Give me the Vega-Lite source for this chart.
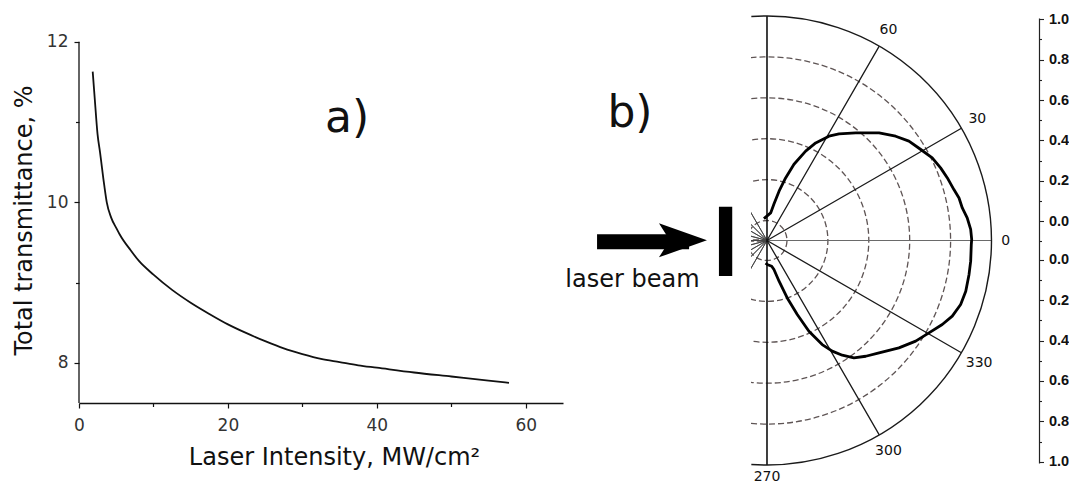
{
  "$schema": "https://vega.github.io/schema/vega-lite/v6.json",
  "background": "white",
  "padding": {"left": 12, "top": 11, "right": 0, "bottom": 0},
  "bounds": "flush",
  "spacing": 188,
  "config": {
    "view": {"stroke": null},
    "axis": {"grid": false, "labelFont": "DejaVu Sans", "titleFont": "DejaVu Sans"},
    "text": {"font": "DejaVu Sans"}
  },
  "hconcat": [
    {
      "width": 484,
      "height": 385,
      "layer": [
        {
          "data": {"values": [
            {"intensity": 1.84, "transmittance": 11.63},
            {"intensity": 2.14, "transmittance": 11.26},
            {"intensity": 2.49, "transmittance": 10.85},
            {"intensity": 2.83, "transmittance": 10.62},
            {"intensity": 3.38, "transmittance": 10.22},
            {"intensity": 3.73, "transmittance": 10.0},
            {"intensity": 4.32, "transmittance": 9.81},
            {"intensity": 5.07, "transmittance": 9.67},
            {"intensity": 5.47, "transmittance": 9.6},
            {"intensity": 6.96, "transmittance": 9.4},
            {"intensity": 8.05, "transmittance": 9.27},
            {"intensity": 10.0, "transmittance": 9.1},
            {"intensity": 12.5, "transmittance": 8.91},
            {"intensity": 15, "transmittance": 8.75},
            {"intensity": 17.5, "transmittance": 8.61},
            {"intensity": 20, "transmittance": 8.48},
            {"intensity": 22.5, "transmittance": 8.37},
            {"intensity": 25, "transmittance": 8.27},
            {"intensity": 27.5, "transmittance": 8.18},
            {"intensity": 30, "transmittance": 8.11},
            {"intensity": 32.5, "transmittance": 8.05},
            {"intensity": 35, "transmittance": 8.01},
            {"intensity": 37.5, "transmittance": 7.97},
            {"intensity": 40, "transmittance": 7.94},
            {"intensity": 45, "transmittance": 7.88},
            {"intensity": 50, "transmittance": 7.83},
            {"intensity": 55, "transmittance": 7.78},
            {"intensity": 57.75, "transmittance": 7.75}
          ]},
          "mark": {"type": "line", "color": "#111", "strokeWidth": 1.8, "interpolate": "monotone"},
          "encoding": {
            "x": {"field": "intensity", "type": "quantitative",
              "scale": {"domain": [0, 65], "nice": false, "zero": false},
              "axis": {"orient": "bottom", "values": [0, 20, 40, 60], "title": "Laser Intensity, MW/cm²",
                "tickSize": 5, "tickColor": "#111", "tickWidth": 1.2, "domainColor": "#111", "domainWidth": 1.3,
                "labelFontSize": 17, "labelColor": "#333", "labelPadding": 9, "labelFlush": false, "labelOverlap": false,
                "titleFontSize": 24, "titleFontWeight": "normal", "titleColor": "#111", "titlePadding": 12, "titleX": 255}},
            "y": {"field": "transmittance", "type": "quantitative",
              "scale": {"domain": [7.5, 12.2975], "nice": false, "zero": false},
              "axis": {"orient": "left", "values": [8, 10, 12], "title": "Total transmittance, %", "domain": false,
                "tickSize": 5, "tickColor": "#111", "tickWidth": 1.2,
                "labelFontSize": 17, "labelColor": "#333", "labelPadding": 6, "labelOverlap": false, "labelFlush": false,
                "titleFontSize": 24, "titleFontWeight": "normal", "titleColor": "#111", "titlePadding": 10, "titleY": 202}}
          }
        },
        {
          "data": {"values": [{}]},
          "mark": {"type": "rule", "color": "#111", "strokeWidth": 1.3},
          "encoding": {
            "x": {"datum": 0, "type": "quantitative",
              "scale": {"domain": [0, 65], "nice": false, "zero": false},
              "axis": {"orient": "bottom", "values": [10, 30, 50], "labels": false, "domain": false, "title": null,
                "tickSize": 3.5, "tickColor": "#111", "tickWidth": 1.2}},
            "y": {"datum": 7.5, "type": "quantitative",
              "scale": {"domain": [7.5, 12.2975], "nice": false, "zero": false},
              "axis": {"orient": "left", "values": [9, 11], "labels": false, "domain": false, "title": null,
                "tickSize": 3.5, "tickColor": "#111", "tickWidth": 1.2}},
            "y2": {"datum": 12}
          }
        },
        {
          "data": {"values": [{}]},
          "mark": {"type": "text", "text": "a)", "fontSize": 44, "color": "#111", "align": "center", "baseline": "middle"},
          "encoding": {
            "x": {"datum": 36, "type": "quantitative", "scale": {"domain": [0, 65], "nice": false, "zero": false}, "axis": null},
            "y": {"datum": 11.04, "type": "quantitative", "scale": {"domain": [7.5, 12.2975], "nice": false, "zero": false}, "axis": null}
          }
        }
      ],
      "resolve": {"axis": {"x": "independent", "y": "independent"}}
    },
    {
      "width": 288,
      "height": 445,
      "layer": [
        {
          "data": {"values": [
            {"r": 0, "a1": 179.5, "a2": -179.5},
            {"r": 0.2, "a1": 179.5, "a2": -179.5},
            {"r": 0.4, "a1": 179.5, "a2": -179.5},
            {"r": 0.6, "a1": 179.5, "a2": -179.5},
            {"r": 0.8, "a1": 179.5, "a2": -179.5}
          ]},
          "mark": {"type": "arc", "filled": false, "stroke": "#5e5454", "strokeWidth": 1.3, "strokeDash": [6, 3], "clip": true},
          "encoding": {
            "x": {"datum": 0, "type": "quantitative", "scale": {"domain": [-0.0782, 1.3301], "nice": false, "zero": false}, "axis": null},
            "y": {"datum": 0, "type": "quantitative", "scale": {"domain": [-1.088, 1.088], "nice": false, "zero": false}, "axis": null},
            "theta": {"field": "a1", "type": "quantitative", "scale": {"domain": [90, -270], "nice": false, "zero": false}, "stack": null},
            "theta2": {"field": "a2"},
            "radius": {"field": "r", "type": "quantitative", "scale": {"domain": [-0.0978, 1], "range": [0, 224.5], "nice": false, "zero": false}},
            "radius2": {"value": 0}
          }
        },
        {
          "data": {"values": [
            {"a": 120, "r": 1}, {"a": 135, "r": 1}, {"a": 150, "r": 1}, {"a": 165, "r": 1}, {"a": 180, "r": 1},
            {"a": 195, "r": 1}, {"a": 210, "r": 1}, {"a": 225, "r": 1}, {"a": 240, "r": 1}
          ]},
          "mark": {"type": "arc", "filled": false, "stroke": "#444", "strokeWidth": 0.9, "clip": true},
          "encoding": {
            "x": {"datum": 0, "type": "quantitative", "scale": {"domain": [-0.0782, 1.3301], "nice": false, "zero": false}, "axis": null},
            "y": {"datum": 0, "type": "quantitative", "scale": {"domain": [-1.088, 1.088], "nice": false, "zero": false}, "axis": null},
            "theta": {"field": "a", "type": "quantitative", "scale": {"domain": [90, -270], "nice": false, "zero": false}, "stack": null},
            "theta2": {"field": "a"},
            "radius": {"field": "r", "type": "quantitative", "scale": {"domain": [-0.0978, 1], "range": [0, 224.5], "nice": false, "zero": false}},
            "radius2": {"value": 0}
          }
        },
        {
          "data": {"values": [{"a": 0, "r": 1}]},
          "mark": {"type": "arc", "filled": false, "stroke": "#6a6a6a", "strokeWidth": 1.2},
          "encoding": {
            "x": {"datum": 0, "type": "quantitative", "scale": {"domain": [-0.0782, 1.3301], "nice": false, "zero": false}, "axis": null},
            "y": {"datum": 0, "type": "quantitative", "scale": {"domain": [-1.088, 1.088], "nice": false, "zero": false}, "axis": null},
            "theta": {"field": "a", "type": "quantitative", "scale": {"domain": [90, -270], "nice": false, "zero": false}, "stack": null},
            "theta2": {"field": "a"},
            "radius": {"field": "r", "type": "quantitative", "scale": {"domain": [-0.0978, 1], "range": [0, 224.5], "nice": false, "zero": false}},
            "radius2": {"value": 0}
          }
        },
        {
          "data": {"values": [{"a": 30, "r": 1}, {"a": 60, "r": 1}, {"a": 330, "r": 1}, {"a": 300, "r": 1}]},
          "mark": {"type": "arc", "filled": false, "stroke": "#1a1a1a", "strokeWidth": 1.3},
          "encoding": {
            "x": {"datum": 0, "type": "quantitative", "scale": {"domain": [-0.0782, 1.3301], "nice": false, "zero": false}, "axis": null},
            "y": {"datum": 0, "type": "quantitative", "scale": {"domain": [-1.088, 1.088], "nice": false, "zero": false}, "axis": null},
            "theta": {"field": "a", "type": "quantitative", "scale": {"domain": [90, -270], "nice": false, "zero": false}, "stack": null},
            "theta2": {"field": "a"},
            "radius": {"field": "r", "type": "quantitative", "scale": {"domain": [-0.0978, 1], "range": [0, 224.5], "nice": false, "zero": false}},
            "radius2": {"value": 0}
          }
        },
        {
          "data": {"values": [{"a": 90, "r": 1}, {"a": 270, "r": 1}]},
          "mark": {"type": "arc", "filled": false, "stroke": "#111", "strokeWidth": 1.6},
          "encoding": {
            "x": {"datum": 0, "type": "quantitative", "scale": {"domain": [-0.0782, 1.3301], "nice": false, "zero": false}, "axis": null},
            "y": {"datum": 0, "type": "quantitative", "scale": {"domain": [-1.088, 1.088], "nice": false, "zero": false}, "axis": null},
            "theta": {"field": "a", "type": "quantitative", "scale": {"domain": [90, -270], "nice": false, "zero": false}, "stack": null},
            "theta2": {"field": "a"},
            "radius": {"field": "r", "type": "quantitative", "scale": {"domain": [-0.0978, 1], "range": [0, 224.5], "nice": false, "zero": false}},
            "radius2": {"value": 0}
          }
        },
        {
          "data": {"values": [{"r": 1, "a1": 94, "a2": -94}]},
          "mark": {"type": "arc", "filled": false, "stroke": "#1a1a1a", "strokeWidth": 1.4},
          "encoding": {
            "x": {"datum": 0, "type": "quantitative", "scale": {"domain": [-0.0782, 1.3301], "nice": false, "zero": false}, "axis": null},
            "y": {"datum": 0, "type": "quantitative", "scale": {"domain": [-1.088, 1.088], "nice": false, "zero": false}, "axis": null},
            "theta": {"field": "a1", "type": "quantitative", "scale": {"domain": [90, -270], "nice": false, "zero": false}, "stack": null},
            "theta2": {"field": "a2"},
            "radius": {"field": "r", "type": "quantitative", "scale": {"domain": [-0.0978, 1], "range": [0, 224.5], "nice": false, "zero": false}},
            "radius2": {"field": "r"}
          }
        },
        {
          "data": {"values": [
            {"i": 1, "x": -0.015, "y": 0.107}, {"i": 2, "x": 0.018, "y": 0.135}, {"i": 3, "x": 0.034, "y": 0.178},
            {"i": 4, "x": 0.059, "y": 0.241}, {"i": 5, "x": 0.091, "y": 0.306}, {"i": 6, "x": 0.132, "y": 0.373},
            {"i": 7, "x": 0.189, "y": 0.437}, {"i": 8, "x": 0.238, "y": 0.477}, {"i": 9, "x": 0.303, "y": 0.51},
            {"i": 10, "x": 0.352, "y": 0.521}, {"i": 11, "x": 0.434, "y": 0.526}, {"i": 12, "x": 0.548, "y": 0.526},
            {"i": 13, "x": 0.629, "y": 0.51}, {"i": 14, "x": 0.694, "y": 0.486}, {"i": 15, "x": 0.752, "y": 0.445},
            {"i": 16, "x": 0.808, "y": 0.404}, {"i": 17, "x": 0.849, "y": 0.355}, {"i": 18, "x": 0.882, "y": 0.306},
            {"i": 19, "x": 0.914, "y": 0.249}, {"i": 20, "x": 0.939, "y": 0.208}, {"i": 21, "x": 0.955, "y": 0.159},
            {"i": 22, "x": 0.979, "y": 0.111}, {"i": 23, "x": 0.996, "y": 0.054}, {"i": 24, "x": 1.001, "y": 0.005},
            {"i": 25, "x": 0.999, "y": -0.02}, {"i": 26, "x": 0.996, "y": -0.101}, {"i": 27, "x": 0.988, "y": -0.166},
            {"i": 28, "x": 0.972, "y": -0.248}, {"i": 29, "x": 0.947, "y": -0.313}, {"i": 30, "x": 0.906, "y": -0.37},
            {"i": 31, "x": 0.857, "y": -0.411}, {"i": 32, "x": 0.792, "y": -0.452}, {"i": 33, "x": 0.727, "y": -0.492},
            {"i": 34, "x": 0.645, "y": -0.525}, {"i": 35, "x": 0.548, "y": -0.55}, {"i": 36, "x": 0.483, "y": -0.566},
            {"i": 37, "x": 0.425, "y": -0.574}, {"i": 38, "x": 0.368, "y": -0.561}, {"i": 39, "x": 0.319, "y": -0.541},
            {"i": 40, "x": 0.27, "y": -0.509}, {"i": 41, "x": 0.205, "y": -0.444}, {"i": 42, "x": 0.148, "y": -0.362},
            {"i": 43, "x": 0.099, "y": -0.281}, {"i": 44, "x": 0.059, "y": -0.199}, {"i": 45, "x": 0.034, "y": -0.142},
            {"i": 46, "x": 0.023, "y": -0.126}, {"i": 47, "x": 0.001, "y": -0.117}, {"i": 48, "x": -0.007, "y": -0.111}
          ]},
          "mark": {"type": "line", "color": "#000", "strokeWidth": 2.8, "strokeJoin": "round"},
          "encoding": {
            "x": {"field": "x", "type": "quantitative", "scale": {"domain": [-0.0782, 1.3301], "nice": false, "zero": false}, "axis": null},
            "y": {"field": "y", "type": "quantitative", "scale": {"domain": [-1.088, 1.088], "nice": false, "zero": false},
              "axis": {"orient": "right", "title": null,
                "values": [1.083, 0.885, 0.687, 0.489, 0.291, 0.093, -0.093, -0.291, -0.489, -0.687, -0.885, -1.083],
                "labelExpr": "format((abs(datum.value) - 0.093) / 0.99, '.1f')",
                "tickSize": 4.5, "tickColor": "#222", "tickWidth": 1.1, "domainColor": "#222", "domainWidth": 1.2,
                "labelFont": "Liberation Sans", "labelFontSize": 14.5, "labelFontWeight": "bold", "labelColor": "#111", "labelPadding": 5,
                "labelOverlap": false, "labelFlush": false, "labelBound": false}},
            "order": {"field": "i", "type": "quantitative"}
          }
        },
        {
          "data": {"values": [
            {"a": 60, "r": 1.09, "t": "60"}, {"a": 30, "r": 1.09, "t": "30"}, {"a": 0, "r": 1.07, "t": "0"},
            {"a": 330, "r": 1.1, "t": "330"}, {"a": 300, "r": 1.09, "t": "300"}, {"a": 270, "r": 1.06, "t": "270"}
          ]},
          "mark": {"type": "text", "fontSize": 14, "color": "#111", "align": "center", "baseline": "middle"},
          "encoding": {
            "x": {"datum": 0, "type": "quantitative", "scale": {"domain": [-0.0782, 1.3301], "nice": false, "zero": false}, "axis": null},
            "y": {"datum": 0, "type": "quantitative", "scale": {"domain": [-1.088, 1.088], "nice": false, "zero": false},
              "axis": {"orient": "right", "title": null, "labels": false, "domain": false,
                "values": [0.984, 0.786, 0.588, 0.39, 0.192, 0, -0.192, -0.39, -0.588, -0.786, -0.984],
                "tickSize": 2.5, "tickColor": "#222", "tickWidth": 1.1}},
            "theta": {"field": "a", "type": "quantitative", "scale": {"domain": [90, -270], "nice": false, "zero": false}, "stack": null},
            "radius": {"field": "r", "type": "quantitative", "scale": {"domain": [-0.0978, 1], "range": [0, 224.5], "nice": false, "zero": false}},
            "text": {"field": "t", "type": "nominal"}
          }
        },
        {
          "data": {"values": [{}]},
          "mark": {"type": "text", "text": "b)", "fontSize": 44, "color": "#111", "align": "center", "baseline": "middle"},
          "encoding": {
            "x": {"datum": -0.67, "type": "quantitative", "scale": {"domain": [-0.0782, 1.3301], "nice": false, "zero": false}, "axis": null},
            "y": {"datum": 0.619, "type": "quantitative", "scale": {"domain": [-1.088, 1.088], "nice": false, "zero": false}, "axis": null}
          }
        },
        {
          "data": {"values": [{}]},
          "mark": {"type": "text", "text": "laser beam", "fontSize": 24, "color": "#111", "align": "center", "baseline": "alphabetic"},
          "encoding": {
            "x": {"datum": -0.658, "type": "quantitative", "scale": {"domain": [-0.0782, 1.3301], "nice": false, "zero": false}, "axis": null},
            "y": {"datum": -0.226, "type": "quantitative", "scale": {"domain": [-1.088, 1.088], "nice": false, "zero": false}, "axis": null}
          }
        },
        {
          "data": {"values": [{}]},
          "mark": {"type": "rule", "color": "#000", "strokeWidth": 15, "strokeCap": "butt"},
          "encoding": {
            "x": {"datum": -0.831, "type": "quantitative", "scale": {"domain": [-0.0782, 1.3301], "nice": false, "zero": false}, "axis": null},
            "x2": {"datum": -0.381},
            "y": {"datum": -0.006, "type": "quantitative", "scale": {"domain": [-1.088, 1.088], "nice": false, "zero": false}, "axis": null}
          }
        },
        {
          "data": {"values": [{}]},
          "mark": {"type": "point", "shape": "M-1,-0.71L1,0L-1,0.71L-0.55,0Z", "size": 2304, "filled": true, "color": "#000", "opacity": 1, "strokeWidth": 0},
          "encoding": {
            "x": {"datum": -0.411, "type": "quantitative", "scale": {"domain": [-0.0782, 1.3301], "nice": false, "zero": false}, "axis": null},
            "y": {"datum": 0.001, "type": "quantitative", "scale": {"domain": [-1.088, 1.088], "nice": false, "zero": false}, "axis": null}
          }
        },
        {
          "data": {"values": [{}]},
          "mark": {"type": "rect", "color": "#000"},
          "encoding": {
            "x": {"datum": -0.235, "type": "quantitative", "scale": {"domain": [-0.0782, 1.3301], "nice": false, "zero": false}, "axis": null},
            "x2": {"datum": -0.17},
            "y": {"datum": 0.165, "type": "quantitative", "scale": {"domain": [-1.088, 1.088], "nice": false, "zero": false}, "axis": null},
            "y2": {"datum": -0.174}
          }
        }
      ],
      "resolve": {"axis": {"y": "independent"}}
    }
  ]
}
